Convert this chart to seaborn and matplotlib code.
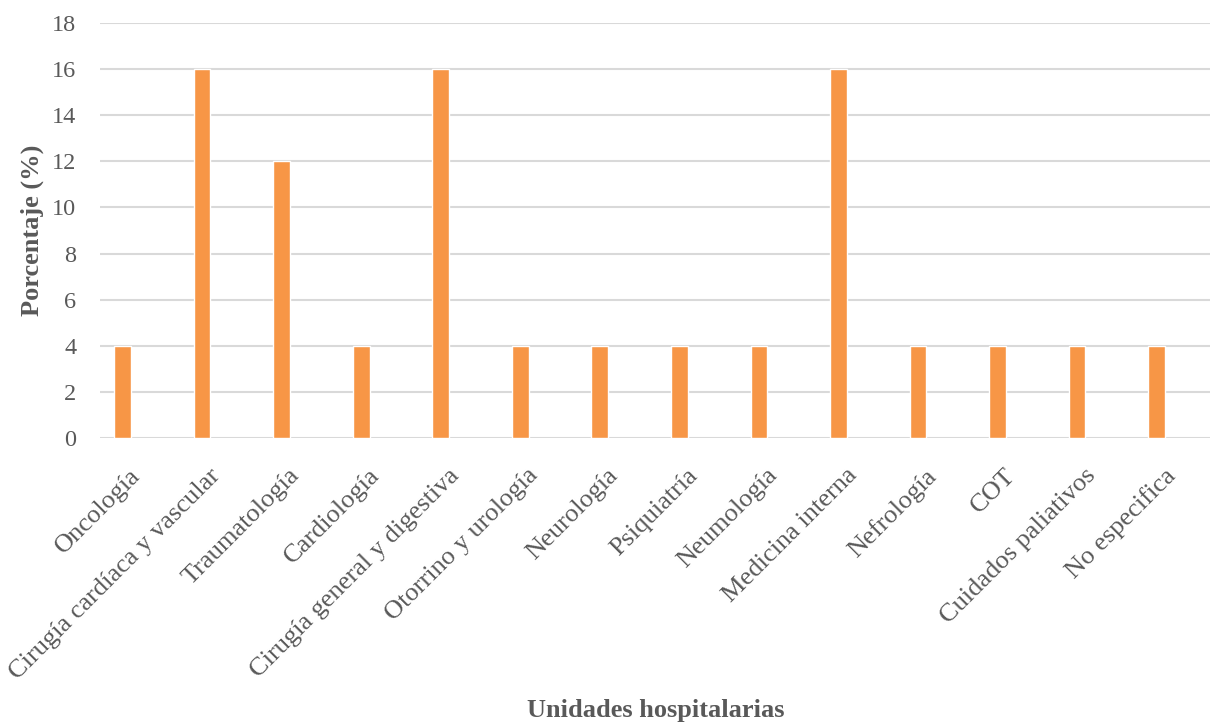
import matplotlib
matplotlib.use("Agg")
import matplotlib.pyplot as plt
import seaborn as sns
import pandas as pd

# === Data ===
unidades = [
    "Oncología", "Cirugía cardíaca y vascular", "Traumatología", "Cardiología",
    "Cirugía general y digestiva", "Otorrino y urología", "Neurología", "Psiquiatría",
    "Neumología", "Medicina interna", "Nefrología", "COT", "Cuidados paliativos",
    "No especifica",
]
porcentaje = [4, 16, 12, 4, 16, 4, 4, 4, 4, 16, 4, 4, 4, 4]
y_ticks = [0, 2, 4, 6, 8, 10, 12, 14, 16, 18]

df = pd.DataFrame({"unidad": unidades, "pct": porcentaje})

sns.set_style("white")
plt.rcParams["font.family"] = ["Liberation Serif", "DejaVu Serif"]

GREY = "#595959"

fig = plt.figure(figsize=(12.1, 7.22), dpi=100)
ax = fig.add_axes([100 / 1210, 1 - 438 / 722, 1 - 100 / 1210, (438 - 23) / 722])

sns.barplot(data=df, x="unidad", y="pct", color="#F79646", saturation=1,
            width=0.21, ax=ax, zorder=3)

ax.set_xlim(-0.283, 13.67)
ax.set_ylim(0, 18)
ax.set_yticks(y_ticks)
ax.yaxis.grid(True, color="#d9d9d9", linewidth=1.5, zorder=0)
ax.set_axisbelow(True)
for s in ax.spines.values():
    s.set_visible(False)

ax.tick_params(axis="both", length=0, colors=GREY)
ax.tick_params(axis="y", pad=17, labelsize=17.5)

# category labels, rotated like the original (end of text sits under the bar)
ax.set_xticklabels([])
for i, name in enumerate(unidades):
    ax.annotate(name, xy=(i, 0), xycoords=ax.get_xaxis_transform(),
                xytext=(5, -19), textcoords="offset points",
                rotation=45, rotation_mode="anchor", ha="right", va="top",
                fontsize=19, color=GREY)

ax.set_ylabel("Porcentaje (%)", fontsize=19, fontweight="bold", color=GREY, labelpad=6)
ax.set_xlabel("")
fig.text(656 / 1210, 1 - 710 / 722, "Unidades hospitalarias", ha="center", va="center",
         fontsize=19, fontweight="bold", color=GREY)

fig.savefig("out.png", dpi=100)
